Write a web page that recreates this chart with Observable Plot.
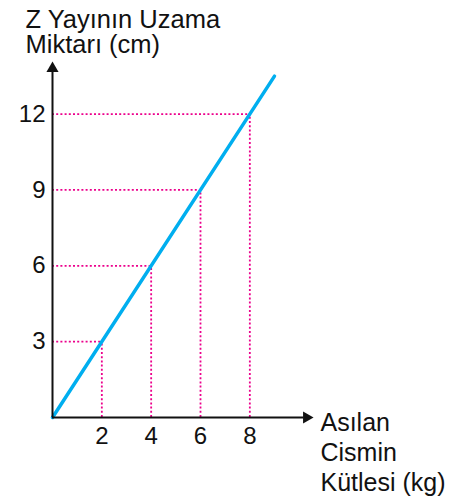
<!DOCTYPE html>
<html><head><meta charset="utf-8">
<script src="https://cdn.jsdelivr.net/npm/d3@7"></script>
<script src="https://cdn.jsdelivr.net/npm/@observablehq/plot@0.6"></script>
<style>
body{margin:0;background:#fff;}
svg{font-family:"Liberation Sans",Arial,sans-serif;}
</style></head>
<body><div id="chart"></div>
<script>
const massTicks = [2, 4, 6, 8];
const stretchTicks = [3, 6, 9, 12];
const lineMass = [0, 9];
const lineStretch = [0, 13.5];
const guideMass = [2, 4, 6, 8];
const guideStretch = [3, 6, 9, 12];
const yTitle = ["Z Yayının Uzama", "Miktarı (cm)"];
const xTitle = ["Asılan", "Cismin", "Kütlesi (kg)"];

const lineData = lineMass.map((m, i) => ({m, s: lineStretch[i]}));
const vGuides = guideMass.map((m, i) => ({m, s: guideStretch[i]}));
const pink = "#EC008C";
const cyan = "#00AEEF";

const chart = Plot.plot({
  width: 474, height: 497,
  marginLeft: 52, marginRight: 163, marginTop: 63, marginBottom: 80,
  x: {domain: [0, 10.5]},
  y: {domain: [0, 14]},
  style: {fontFamily: "Liberation Sans, Arial, sans-serif", background: "#fff"},
  marks: [
    Plot.ruleX(vGuides, {x: "m", y1: 0, y2: "s", stroke: pink, strokeWidth: 1.8, strokeDasharray: "2,2.2"}),
    Plot.ruleY(vGuides, {y: "s", x1: 0, x2: "m", stroke: pink, strokeWidth: 1.8, strokeDasharray: "2,2.2"}),
    Plot.line(lineData, {x: "m", y: "s", stroke: cyan, strokeWidth: 3.5}),
    Plot.ruleY([0], {x1: 0, x2: 10.2, stroke: "#111", strokeWidth: 2}),
    Plot.ruleX([0], {y1: 0, y2: 13.7, stroke: "#111", strokeWidth: 2}),
    Plot.dot([{x: 10.3, y: 0}], {x: "x", y: "y", symbol: "triangle", r: 4.5, fill: "#111", stroke: null, rotate: 90}),
    Plot.dot([{x: 0, y: 13.8}], {x: "x", y: "y", symbol: "triangle", r: 4.5, fill: "#111", stroke: null}),
    Plot.axisX(massTicks, {tickSize: 0, tickPadding: 9, fontSize: 24, fill: "#111", label: null}),
    Plot.axisY(stretchTicks, {tickSize: 0, tickPadding: 7, fontSize: 24, fill: "#111", label: null}),
    Plot.text([yTitle.join("\n")], {frameAnchor: "top-left", dx: -27, dy: -54, textAnchor: "start", lineAnchor: "top", lineHeight: 1.0, fontSize: 25.5, fill: "#111"}),
    Plot.text([xTitle.join("\n")], {frameAnchor: "bottom-right", dx: 9, dy: -8, textAnchor: "start", lineAnchor: "top", lineHeight: 1.2, fontSize: 25, fill: "#111"})
  ]
});
document.getElementById("chart").append(chart);
</script>
</body></html>
